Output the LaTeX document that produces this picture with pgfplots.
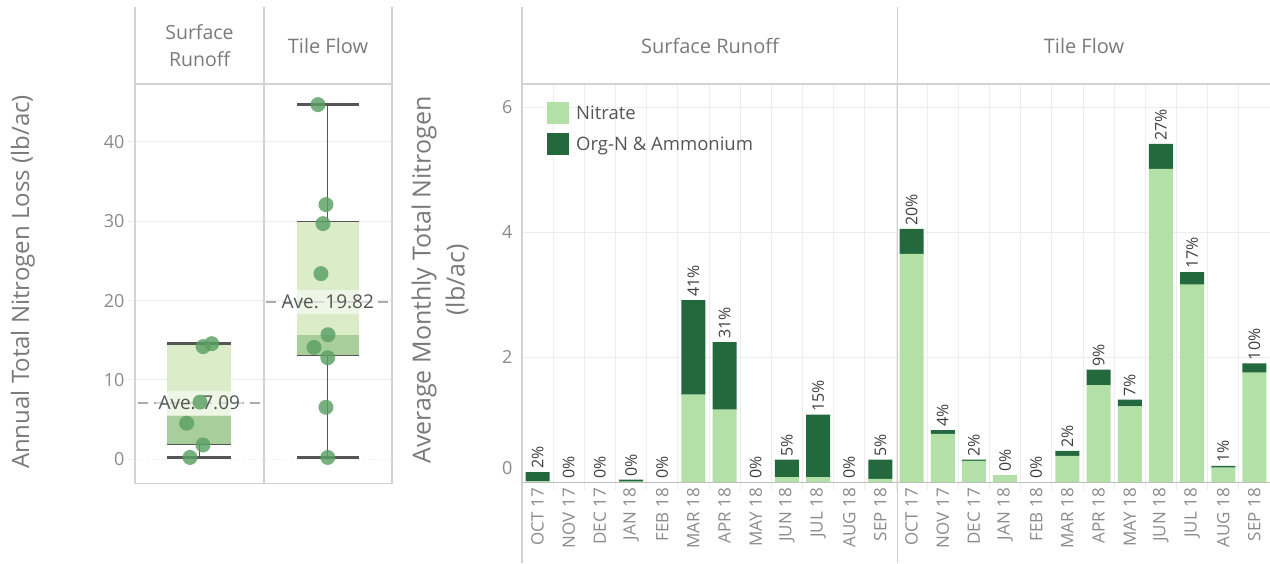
\documentclass[border=0pt]{standalone}
\usepackage{pgfplots}
\pgfplotsset{compat=1.18}
\usepackage{pgfplotstable}
\usepackage{fontspec}
\setmainfont{Open Sans}
\definecolor{nitr}{HTML}{B3E0A6}
\definecolor{orgn}{HTML}{24693D}
\definecolor{boxlt}{HTML}{DAECC8}
\definecolor{boxdk}{HTML}{A8CF9B}
\definecolor{ptc}{HTML}{5AA064}
\definecolor{framec}{HTML}{D2D2D2}
\definecolor{gridc}{HTML}{EDEDED}
\definecolor{txt}{HTML}{8A8A8A}
\definecolor{ttl}{HTML}{7A7A7A}
\definecolor{dtxt}{HTML}{555555}
\definecolor{pctc}{HTML}{3E3E3E}
\definecolor{whisk}{HTML}{555555}
\definecolor{axgray}{HTML}{BDBDBD}

\pgfplotstableread{
x nit org tot pct
0 0.01 0.15 0.16 2
1 0 0 0 0
2 0 0 0 0
3 0.005 0.035 0.04 0
4 0 0 0 0
5 1.40 1.51 2.91 41
6 1.16 1.08 2.24 31
7 0 0 0 0
8 0.08 0.28 0.36 5
9 0.08 1.00 1.08 15
10 0 0 0 0
11 0.05 0.31 0.36 5
12 3.65 0.40 4.05 20
13 0.77 0.06 0.83 4
14 0.34 0.02 0.36 2
15 0.11 0 0.11 0
16 0 0 0 0
17 0.42 0.08 0.50 2
18 1.55 0.25 1.80 9
19 1.21 0.11 1.32 7
20 5.01 0.40 5.41 27
21 3.16 0.20 3.36 17
22 0.23 0.03 0.26 1
23 1.75 0.15 1.90 10
}\monthly

\pgfplotstableread{
x y
-0.072 0.23
0.029 1.8
-0.098 4.54
0.006 7.2
0.097 14.57
0.030 14.2
}\surfpts

\pgfplotstableread{
x y
0.924 44.7
0.986 32.1
0.963 29.7
0.947 23.4
1.002 15.7
0.893 14.1
1.000 12.8
0.986 6.55
1.000 0.23
}\tilepts

\begin{document}
\begin{tikzpicture}[x=1pt,y=1pt]
\useasboundingbox (0,0) rectangle (1270,-563);

% ---------- left panel: annual box plot ----------
\begin{axis}[
  at={(135pt,-483.3pt)}, anchor=south west, scale only axis,
  width=257pt, height=399.3pt,
  xmin=-0.5, xmax=1.5, ymin=-3.03, ymax=47.3,
  axis line style={draw=none}, xtick=\empty,
  ytick={10,20,30,40}, ytick pos=left,
  ymajorgrids, major grid style={draw=gridc, line width=1pt},
  extra y ticks={0},
  extra y tick style={grid style={draw=gray!55, dotted, line width=1.1pt}},
  tick align=outside, major tick length=7pt, tick style={draw=gridc, line width=1pt},
  /pgf/number format/assume math mode=true,
  yticklabel style={font=\fontsize{18}{20}\selectfont, text=txt},
  clip=false,
]
\addplot[fill=boxlt, draw=none] coordinates {(-0.25,5.4) (0.25,5.4) (0.25,14.57) (-0.25,14.57)} -- cycle;
\addplot[fill=boxdk, draw=none] coordinates {(-0.25,1.9) (0.25,1.9) (0.25,5.4) (-0.25,5.4)} -- cycle;
\addplot[fill=boxlt, draw=none] coordinates {(0.76,15.7) (1.24,15.7) (1.24,30.0) (0.76,30.0)} -- cycle;
\addplot[fill=boxdk, draw=none] coordinates {(0.76,13.06) (1.24,13.06) (1.24,15.7) (0.76,15.7)} -- cycle;
\addplot[only marks, mark=*, color=ptc, mark size=7.5pt, fill opacity=0.82, draw opacity=0] table {\surfpts};
\addplot[only marks, mark=*, color=ptc, mark size=7.5pt, fill opacity=0.82, draw opacity=0] table {\tilepts};
\addplot[whisk, line width=1.3pt] coordinates {(-0.25,1.9) (0.25,1.9)};
\addplot[whisk, line width=1.3pt] coordinates {(0,1.9) (0,0.23)};
\addplot[whisk, line width=2.6pt] coordinates {(-0.25,14.57) (0.25,14.57)};
\addplot[whisk, line width=2.6pt] coordinates {(-0.25,0.23) (0.25,0.23)};
\addplot[whisk, line width=1.3pt] coordinates {(0.76,30.0) (1.24,30.0)};
\addplot[whisk, line width=1.3pt] coordinates {(0.76,13.06) (1.24,13.06)};
\addplot[whisk, line width=1.3pt] coordinates {(1,30.0) (1,44.7)};
\addplot[whisk, line width=1.3pt] coordinates {(1,13.06) (1,0.23)};
\addplot[whisk, line width=2.6pt] coordinates {(0.76,44.7) (1.24,44.7)};
\addplot[whisk, line width=2.6pt] coordinates {(0.76,0.23) (1.24,0.23)};
\addplot[gray!65, line width=2pt, dash pattern=on 10pt off 6pt] coordinates {(-0.48,7.09) (0.48,7.09)};
\addplot[gray!65, line width=2pt, dash pattern=on 10pt off 6pt] coordinates {(0.52,19.82) (1.5,19.82)};
\node[fill=white, fill opacity=0.55, text opacity=1, text=dtxt, inner xsep=3pt, inner ysep=5pt,
      font=\fontsize{19}{21}\selectfont] at (axis cs:0,7.09) {Ave. 7.09};
\node[fill=white, fill opacity=0.55, text opacity=1, text=dtxt, inner xsep=3pt, inner ysep=5pt,
      font=\fontsize{19}{21}\selectfont] at (axis cs:1,19.82) {Ave. 19.82};
\end{axis}

% ---------- right panel: monthly stacked bars ----------
\begin{axis}[
  at={(522pt,-482pt)}, anchor=south west, scale only axis,
  width=748pt, height=398pt,
  xmin=-0.5, xmax=23.5, ymin=0, ymax=6.37,
  ybar stacked, bar width=24pt,
  axis x line*=bottom, axis y line*=left,
  x axis line style={draw=axgray, line width=1pt, -},
  y axis line style={draw=none, -},
  xtick={0,...,23},
  xticklabels={OCT 17,NOV 17,DEC 17,JAN 18,FEB 18,MAR 18,APR 18,MAY 18,JUN 18,JUL 18,AUG 18,SEP 18,
               OCT 17,NOV 17,DEC 17,JAN 18,FEB 18,MAR 18,APR 18,MAY 18,JUN 18,JUL 18,AUG 18,SEP 18},
  x tick label style={rotate=90, anchor=east, font=\fontsize{17}{19}\selectfont, text=txt, inner sep=6pt},
  minor xtick={0.5,1.5,...,22.5},
  xminorgrids, minor grid style={draw=gridc, line width=1pt},
  ytick={2,4,6}, ymajorgrids, major grid style={draw=gridc, line width=1pt},
  major tick length=0pt, minor tick length=8pt, tick align=outside,
  tick style={draw=gridc, line width=1pt},
  /pgf/number format/assume math mode=true,
  yticklabel style={font=\fontsize{18}{20}\selectfont, text=txt, xshift=-6pt},
  legend style={at={(rel axis cs:0,1)}, anchor=north west, xshift=25pt, yshift=-18pt,
    draw=none, fill=none, inner sep=0pt, row sep=9pt,
    font=\fontsize{18.5}{20}\selectfont, text=dtxt,
    nodes={inner sep=1pt, anchor=west},
    /tikz/every odd column/.append style={column sep=6pt}},
  legend cell align=left,
  legend image code/.code={\path[#1] (0pt,-11pt) rectangle (22pt,11pt);},
  clip=false,
]
\addplot[fill=nitr, draw=none] table[x=x, y=nit] {\monthly};
\addplot[fill=orgn, draw=none] table[x=x, y=org] {\monthly};
\legend{Nitrate, Org-N \& Ammonium}
\node[anchor=east, text=txt, font=\fontsize{18}{20}\selectfont] at (axis cs:-0.5,0) [xshift=-6pt, yshift=14pt] {0};
\end{axis}

% ---------- percentage labels (overlay with the same geometry) ----------
\begin{axis}[
  at={(522pt,-482pt)}, anchor=south west, scale only axis,
  width=748pt, height=398pt,
  xmin=-0.5, xmax=23.5, ymin=0, ymax=6.37,
  hide axis, clip=false,
]
\addplot[draw=none, mark=none,
  point meta=explicit symbolic,
  nodes near coords={\pgfplotspointmeta\%},
  every node near coord/.append style={rotate=90, anchor=west, inner sep=3pt,
     font=\fontsize{16}{18}\selectfont, text=pctc}]
  table[x=x, y=tot, meta=pct] {\monthly};
\end{axis}

% ---------- frames and headers ----------
\begin{scope}[draw=framec, line width=1.2pt]
  \draw (135,-7) -- (135,-483.3) -- (392,-483.3) -- (392,-7);
  \draw (264,-7) -- (264,-483.3);
  \draw (135,-84) -- (392,-84);
  \draw (522,-7) -- (522,-563);
  \draw (897.7,-7) -- (897.7,-563);
  \draw (522,-84) -- (1270,-84);
\end{scope}

\node[text=ttl, font=\fontsize{19.5}{27}\selectfont, align=center] at (199.5,-46) {Surface\\Runoff};
\node[text=ttl, font=\fontsize{20}{22}\selectfont] at (328,-46) {Tile Flow};
\node[text=ttl, font=\fontsize{20}{22}\selectfont] at (710,-46) {Surface Runoff};
\node[text=ttl, font=\fontsize{20}{22}\selectfont] at (1084,-46) {Tile Flow};

\node[rotate=90, text=ttl, font=\fontsize{24}{26}\selectfont] at (23,-282) {Annual Total Nitrogen Loss (lb/ac)};
\node[rotate=90, text=ttl, font=\fontsize{25}{34}\selectfont, align=center] at (440,-280) {Average Monthly Total Nitrogen\\(lb/ac)};
\end{tikzpicture}
\end{document}
